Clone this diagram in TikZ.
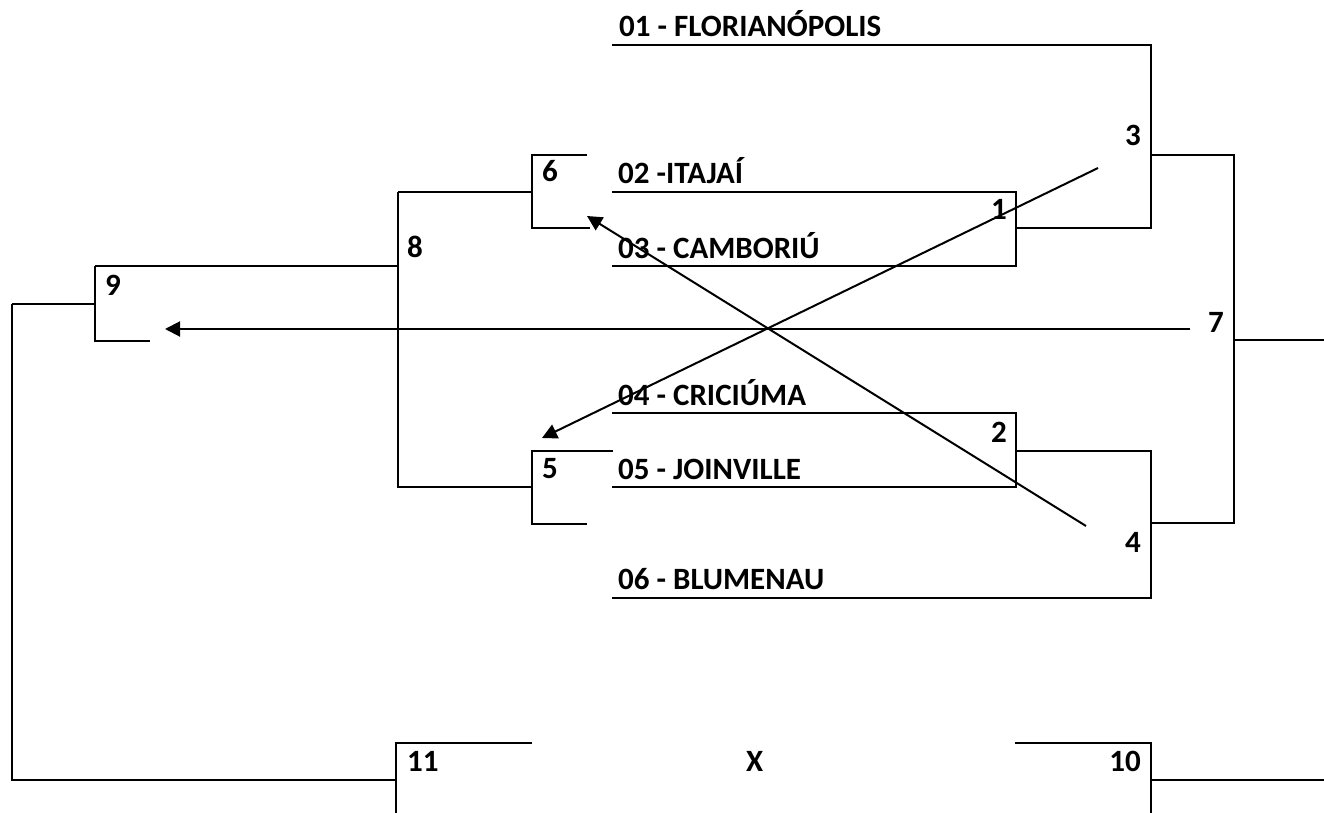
\documentclass[tikz,border=0pt]{standalone}
\usepackage{fontspec}
\setmainfont{Carlito}
\usetikzlibrary{arrows.meta}
\tikzset{
    lbl/.style={anchor=base west, inner sep=0pt, font=\bfseries\fontsize{31}{36}\selectfont},
    brk/.style={line width=2pt},
    arr/.style={line width=2pt, -{Triangle[length=15pt, width=15pt]}}
}
\begin{document}
\begin{tikzpicture}[x=1pt, y=-1pt]
    \useasboundingbox (0,0) rectangle (1324,813);
    \node(t1)[lbl] at (619,37) {01 - FLORIANÓPOLIS};
    \node(t2)[lbl] at (618,184) {02 -ITAJAÍ};
    \node(t3)[lbl] at (618,258) {03 - CAMBORIÚ};
    \node(t4)[lbl] at (618,405) {04 - CRICIÚMA};
    \node(t5)[lbl] at (618,479) {05 - JOINVILLE};
    \node(t6)[lbl] at (618,589) {06 - BLUMENAU};
    \node(g1)[lbl] at (991,219) {1};
    \node(g2)[lbl] at (991,442) {2};
    \node(g3)[lbl] at (1125,146) {3};
    \node(g4)[lbl] at (1125,552) {4};
    \node(g5)[lbl] at (542,478) {5};
    \node(g6)[lbl] at (542,182) {6};
    \node(g7)[lbl] at (1208,332) {7};
    \node(g8)[lbl] at (407,257) {8};
    \node(g9)[lbl] at (105,295) {9};
    \node(g10)[lbl, anchor=base east] at (1141,771) {10};
    \node(g11)[lbl] at (407,771) {11};
    \node(vs)[lbl] at (746,771) {X};
    \draw[brk] (612,45) -| (1151,228) -- (1016,228);
    \draw[brk] (612,192) -- (1016,192) -- (1016,266) -- (612,266);
    \draw[brk] (1151,155) -| (1234,523) -- (1151,523);
    \draw[brk] (1234,340) -- (1324,340);
    \draw[brk] (612,413) -- (1016,413) -- (1016,487) -- (612,487);
    \draw[brk] (1016,451) -| (1151,598) -- (612,598);
    \draw[brk] (587,155) -| (532,228) -- (590,228);
    \draw[brk] (398,192) -- (532,192);
    \draw[brk] (398,192) -- (398,487) -- (532,487);
    \draw[brk] (95,266) -- (398,266);
    \draw[brk] (613,451) -| (532,524) -- (587,524);
    \draw[brk] (95,266) -- (95,341) -- (150,341);
    \draw[brk] (12,304) -- (95,304);
    \draw[brk] (12,304) -- (12,780) -- (396,780);
    \draw[brk] (532,743) -| (396,813);
    \draw[brk] (1015,743) -| (1151,813);
    \draw[brk] (1151,780) -- (1324,780);
    \coordinate(a3) at (1098,168);
    \coordinate(a5) at (542,438);
    \coordinate(a4) at (1086,526);
    \coordinate(a6) at (587,216);
    \coordinate(a7) at (1190,329);
    \coordinate(a9) at (165,329);
    \draw[arr] (a3) -- (a5);
    \draw[arr] (a4) -- (a6);
    \draw[arr] (a7) -- (a9);
\end{tikzpicture}
\end{document}
